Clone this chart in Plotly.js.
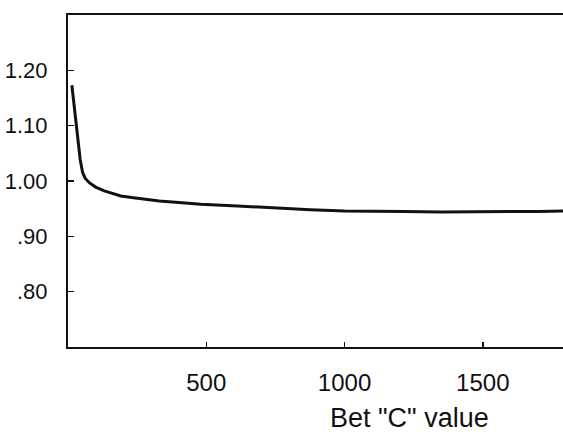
<!DOCTYPE html>
<html>
<head>
<meta charset="utf-8">
<script src="https://cdn.plot.ly/plotly-3.0.1.min.js"></script>
<style>html,body{margin:0;padding:0;background:#fff;}#chart{width:563px;height:434px;}</style>
</head>
<body>
<div id="chart"></div>
<script>
var betC = [14, 22, 29, 37, 44, 53, 62, 77, 100, 131, 160, 191, 230, 275, 330, 401, 480, 612, 750, 876, 1000, 1100, 1211, 1350, 1450, 1572, 1700, 1790];
var ratio = [1.173, 1.135, 1.10, 1.068, 1.039, 1.015, 1.005, 0.997, 0.989, 0.982, 0.977, 0.973, 0.970, 0.967, 0.964, 0.961, 0.958, 0.955, 0.951, 0.948, 0.946, 0.945, 0.945, 0.944, 0.944, 0.945, 0.945, 0.946];
var xTickVals = [500, 1000, 1500];
var xTickText = ["500", "1000", "1500"];
var yTickVals = [0.8, 0.9, 1.0, 1.1, 1.2];
var yTickText = [".80", ".90", "1.00", "1.10", "1.20"];
var xTitle = 'Bet "C" value';

var trace = {
  x: betC, y: ratio, type: 'scatter', mode: 'lines',
  line: {color: '#111', width: 3},
  hoverinfo: 'skip'
};
var fontFam = 'Liberation Sans, Arial, sans-serif';
var layout = {
  width: 563, height: 434,
  margin: {l: 68, r: 0, t: 15, b: 87},
  paper_bgcolor: '#fff', plot_bgcolor: '#fff',
  showlegend: false,
  font: {family: fontFam, size: 22, color: '#111'},
  xaxis: {
    range: [0, 1790], showgrid: false, zeroline: false,
    showline: true, linecolor: '#111', linewidth: 2, mirror: true,
    ticks: 'inside', ticklen: 5, tickwidth: 1.5, tickcolor: '#111',
    tickvals: xTickVals, ticktext: xTickText,
    ticklabelstandoff: 13,
    tickfont: {family: fontFam, size: 24, color: '#111'}
  },
  yaxis: {
    range: [0.70, 1.30], showgrid: false, zeroline: false,
    showline: true, linecolor: '#111', linewidth: 2,
    ticks: 'inside', ticklen: 6, tickwidth: 1.5, tickcolor: '#111',
    tickvals: yTickVals, ticktext: yTickText,
    ticklabelstandoff: 14,
    tickfont: {family: fontFam, size: 22, color: '#111'}
  },
  annotations: [{
    text: xTitle, xref: 'paper', yref: 'paper',
    x: (409 - 68) / 495, y: -0.215, xanchor: 'center', yanchor: 'middle',
    showarrow: false, font: {family: fontFam, size: 27, color: '#111'}
  }]
};
Plotly.newPlot('chart', [trace], layout, {staticPlot: true, displayModeBar: false});
</script>
</body>
</html>
